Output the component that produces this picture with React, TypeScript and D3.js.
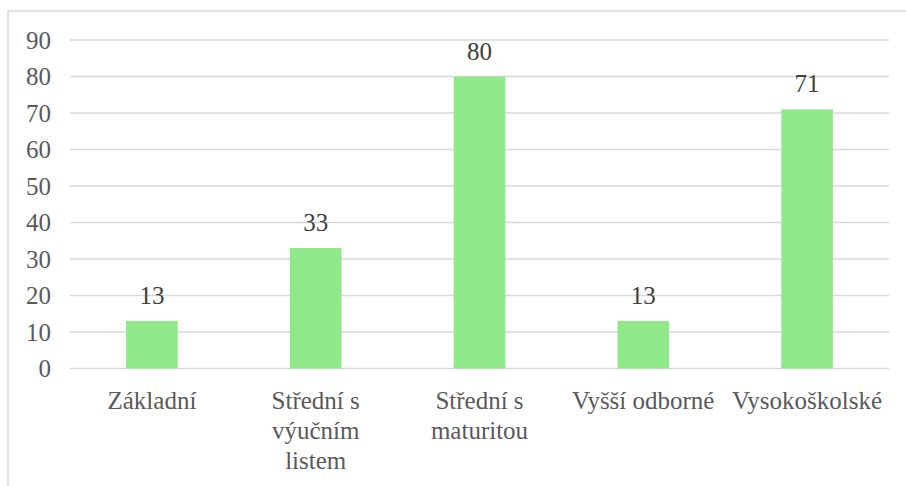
import React, { useEffect, useRef } from "react";
import * as d3 from "d3";

const categories: string[][] = [
  ["Základní"],
  ["Střední s", "výučním", "listem"],
  ["Střední s", "maturitou"],
  ["Vyšší odborné"],
  ["Vysokoškolské"],
];
const values: number[] = [13, 33, 80, 13, 71];
const yTicks: number[] = [0, 10, 20, 30, 40, 50, 60, 70, 80, 90];

export default function App() {
  const ref = useRef<SVGSVGElement | null>(null);
  const W = 906, H = 486;
  useEffect(() => {
    const left = 70, right = 889, top = 40, bottom = 368.5;
    const x = d3.scaleBand<number>().domain(values.map((_, i) => i)).range([left, right]).paddingInner(0.685).paddingOuter(0.3425);
    const y = d3.scaleLinear().domain([0, 90]).range([bottom, top]);
    const svg = d3.select(ref.current);
    svg.selectAll("*").remove();
    svg.append("rect").attr("x", 8).attr("y", 11).attr("width", 920).attr("height", 500)
      .attr("fill", "#fff").attr("stroke", "#d9d9d9").attr("stroke-width", 1.5);
    const g = svg.append("g");
    g.selectAll("line.grid").data(yTicks).join("line")
      .attr("x1", left).attr("x2", right).attr("y1", (d) => y(d)).attr("y2", (d) => y(d))
      .attr("stroke", "#d9d9d9").attr("stroke-width", 1.3);
    g.selectAll("text.tick").data(yTicks).join("text")
      .attr("x", 51).attr("y", (d) => y(d) + 8.5).attr("text-anchor", "end")
      .attr("font-family", "Times New Roman").attr("font-size", 25).attr("fill", "#595959")
      .text((d) => String(d));
    g.selectAll("rect.bar").data(values).join("rect")
      .attr("x", (_, i) => x(i) as number).attr("y", (d) => y(d))
      .attr("width", x.bandwidth()).attr("height", (d) => y(0) - y(d)).attr("fill", "#8fe988");
    g.selectAll("text.val").data(values).join("text")
      .attr("x", (_, i) => (x(i) as number) + x.bandwidth() / 2).attr("y", (d) => y(d) - 17)
      .attr("text-anchor", "middle").attr("font-family", "Times New Roman").attr("font-size", 25).attr("fill", "#404040")
      .text((d) => String(d));
    categories.forEach((lines, i) => {
      lines.forEach((l, j) => {
        g.append("text")
          .attr("x", (x(i) as number) + x.bandwidth() / 2).attr("y", 409 + j * 30)
          .attr("text-anchor", "middle").attr("font-family", "Times New Roman").attr("font-size", 25).attr("fill", "#595959")
          .text(l);
      });
    });
  }, []);
  return (
    <svg ref={ref} width={W} height={H} style={{ position: "absolute", left: 0, top: 0, background: "#fff" }} />
  );
}
